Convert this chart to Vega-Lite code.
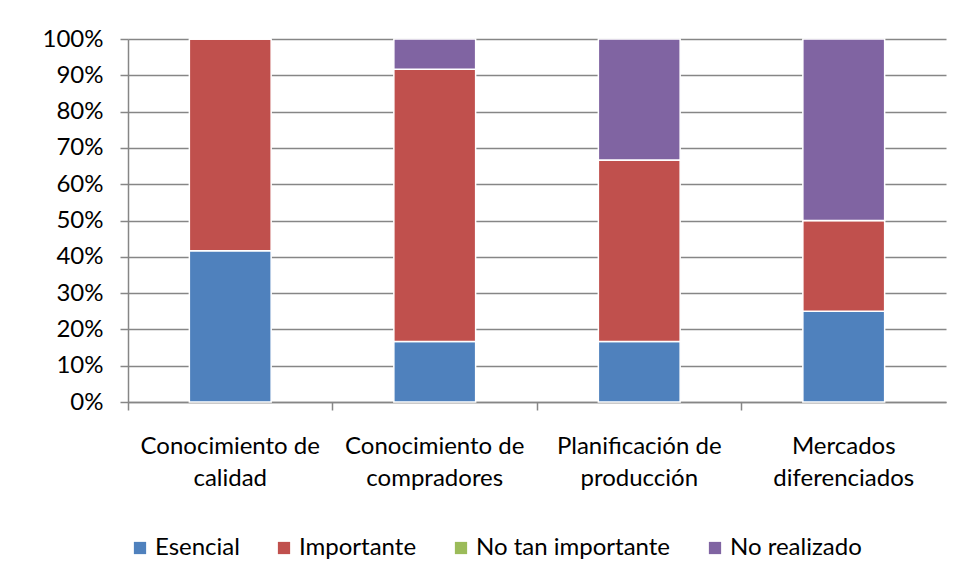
{
  "$schema": "https://vega.github.io/schema/vega-lite/v6.json",
  "width": 818,
  "height": 363,
  "autosize": {"type": "none"},
  "padding": {"left": 128, "top": 39, "right": 20, "bottom": 181},
  "background": "white",
  "config": {
    "font": "Lato",
    "view": {"stroke": null},
    "axis": {
      "labelFont": "Lato",
      "labelColor": "#000000",
      "domainColor": "#868686",
      "tickColor": "#868686",
      "gridColor": "#868686",
      "domainWidth": 1.5,
      "tickWidth": 1.5,
      "gridWidth": 1.5
    }
  },
  "data": {
    "values": [
      {"tema": "Conocimiento de calidad", "respuesta": "Esencial", "orden": 1, "n": 5},
      {"tema": "Conocimiento de calidad", "respuesta": "Importante", "orden": 2, "n": 7},
      {"tema": "Conocimiento de calidad", "respuesta": "No tan importante", "orden": 3, "n": 0},
      {"tema": "Conocimiento de calidad", "respuesta": "No realizado", "orden": 4, "n": 0},
      {"tema": "Conocimiento de compradores", "respuesta": "Esencial", "orden": 1, "n": 2},
      {"tema": "Conocimiento de compradores", "respuesta": "Importante", "orden": 2, "n": 9},
      {"tema": "Conocimiento de compradores", "respuesta": "No tan importante", "orden": 3, "n": 0},
      {"tema": "Conocimiento de compradores", "respuesta": "No realizado", "orden": 4, "n": 1},
      {"tema": "Planificación de producción", "respuesta": "Esencial", "orden": 1, "n": 2},
      {"tema": "Planificación de producción", "respuesta": "Importante", "orden": 2, "n": 6},
      {"tema": "Planificación de producción", "respuesta": "No tan importante", "orden": 3, "n": 0},
      {"tema": "Planificación de producción", "respuesta": "No realizado", "orden": 4, "n": 4},
      {"tema": "Mercados diferenciados", "respuesta": "Esencial", "orden": 1, "n": 3},
      {"tema": "Mercados diferenciados", "respuesta": "Importante", "orden": 2, "n": 3},
      {"tema": "Mercados diferenciados", "respuesta": "No tan importante", "orden": 3, "n": 0},
      {"tema": "Mercados diferenciados", "respuesta": "No realizado", "orden": 4, "n": 6}
    ]
  },
  "mark": {"type": "bar", "width": {"band": 0.4}, "stroke": "white", "strokeWidth": 1.5},
  "encoding": {
    "x": {
      "field": "tema",
      "type": "nominal",
      "sort": null,
      "scale": {"paddingInner": 0, "paddingOuter": 0},
      "axis": {
        "title": null,
        "labelAngle": 0,
        "labelFontSize": 24,
        "labelLineHeight": 32,
        "labelPadding": 24,
        "labelLimit": 300,
        "tickSize": 8,
        "bandPosition": 0,
        "grid": false,
        "labelExpr": "[substring(datum.label, 0, lastindexof(datum.label, ' ')), substring(datum.label, lastindexof(datum.label, ' ') + 1)]"
      }
    },
    "y": {
      "aggregate": "sum",
      "field": "n",
      "type": "quantitative",
      "stack": "normalize",
      "scale": {"domain": [0, 1]},
      "axis": {
        "title": null,
        "format": "%",
        "values": [0, 0.1, 0.2, 0.3, 0.4, 0.5, 0.6, 0.7, 0.8, 0.9, 1],
        "labelFontSize": 24,
        "labelPadding": 17,
        "tickSize": 8,
        "grid": true
      }
    },
    "color": {
      "field": "respuesta",
      "type": "nominal",
      "scale": {
        "domain": ["Esencial", "Importante", "No tan importante", "No realizado"],
        "range": ["#4F81BD", "#C0504D", "#9BBB59", "#8064A2"]
      },
      "legend": {
        "title": null,
        "orient": "none",
        "direction": "horizontal",
        "legendX": 0,
        "legendY": 497,
        "padding": 0,
        "symbolType": "square",
        "symbolSize": 150,
        "symbolStrokeWidth": 0,
        "labelFont": "Lato",
        "labelFontSize": 24,
        "labelColor": "#000000",
        "labelOffset": 3,
        "labelLimit": 400,
        "columnPadding": 32
      }
    },
    "order": {"field": "orden", "type": "quantitative"}
  }
}
